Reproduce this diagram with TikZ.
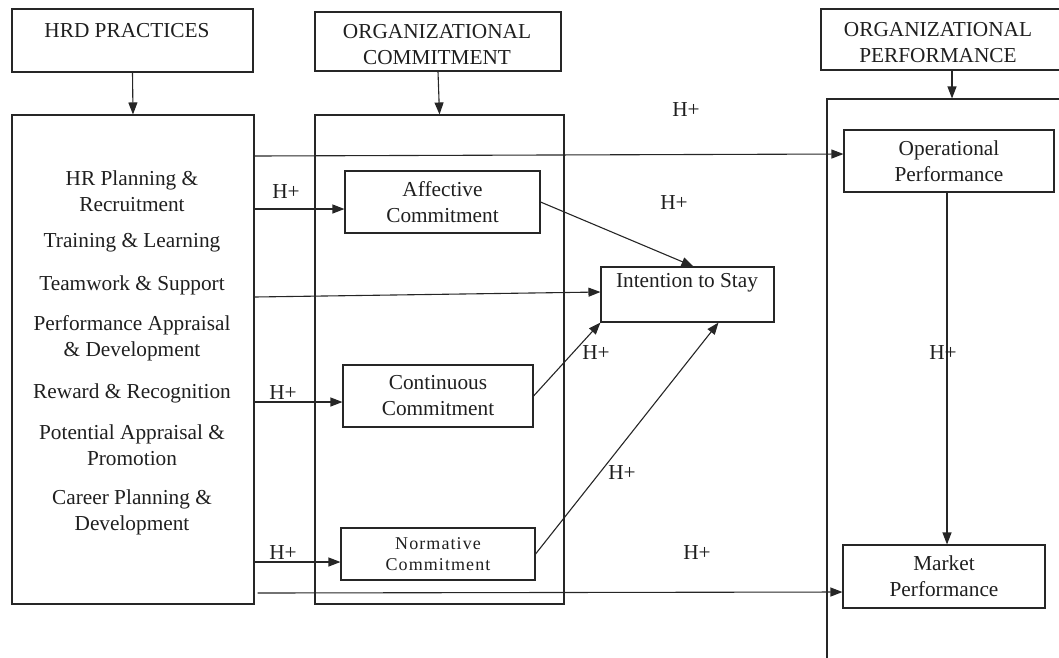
\documentclass[tikz,border=0pt]{standalone}
\usepackage{fontspec}
\setmainfont{Liberation Serif}
\usetikzlibrary{arrows.meta}
\begin{document}
\begin{tikzpicture}[x=1pt,y=-1pt,
  every node/.style={font=\fontsize{21.3}{26}\selectfont, text=black!88, inner sep=0pt},
  box/.style={draw=black!85, line width=1.1pt, rectangle},
  conn/.style={draw=black!85, line width=1.1pt},
  arr/.style={conn, -{Triangle[length=12pt,width=9pt]}},
  txt/.style={align=center},
  small/.style={font=\fontsize{18}{21}\selectfont\addfontfeatures{LetterSpace=6}}
]
\useasboundingbox (0,0) rectangle (1059,657);
\clip (0,0) rectangle (1059,657);

% header boxes
\node[box, minimum width=241pt, minimum height=63pt] (hrdH) at (132.5,40.5) {};
\node[txt] (hrdHt) at (127,31) {HRD PRACTICES};
\node[box, minimum width=246pt, minimum height=59pt] (orgC) at (438,41.5) {};
\node[txt] (orgCt) at (437,45) {ORGANIZATIONAL\\COMMITMENT};
\node[box, minimum width=249pt, minimum height=61pt] (orgP) at (945.5,39.5) {};
\node[txt] (orgPt) at (938,43) {ORGANIZATIONAL\\PERFORMANCE};

% big boxes
\node[box, minimum width=242pt, minimum height=489pt] (hrdB) at (133,359.5) {};
\node[box, minimum width=249pt, minimum height=489pt] (orgCB) at (439.5,359.5) {};
\node[box, minimum width=253pt, minimum height=601pt] (orgPB) at (953.5,399.5) {};

% HRD practices list
\node[txt] (hr) at (132,191) {HR Planning \&\\Recruitment};
\node[txt] (tl) at (132,243) {Training \& Learning};
\node[txt] (tw) at (132,285) {Teamwork \& Support};
\node[txt] (pa) at (132,338.5) {Performance Appraisal\\\& Development};
\node[txt] (rr) at (132,393) {Reward \& Recognition};
\node[txt] (pp) at (132,445) {Potential Appraisal \&\\Promotion};
\node[txt] (cp) at (132,512.5) {Career Planning \&\\Development};

% commitment boxes
\node[box, txt, minimum width=195pt, minimum height=62pt] (aff) at (442.5,202) {Affective\\Commitment};
\node[box, txt, minimum width=190pt, minimum height=62pt] (cont) at (438,396) {Continuous\\Commitment};
\node[box, txt, small, minimum width=194pt, minimum height=52pt] (norm) at (438,554) {Normative\\Commitment};

% intention
\node[box, minimum width=173pt, minimum height=55pt] (intent) at (687.5,294.5) {};
\node (intentt) at (687,283) {Intention to Stay};

% performance boxes
\node[box, txt, minimum width=210pt, minimum height=62pt] (op) at (949,161) {Operational\\Performance};
\node[box, txt, minimum width=202pt, minimum height=63pt] (mkt) at (944,576.5) {Market\\Performance};

% header arrows
\draw[arr] (hrdH.south) -- (hrdB.north);
\draw[arr] (orgC.south) -- (orgCB.north);
\coordinate (opx) at (952,0);
\draw[arr] (orgP.south -| opx) -- (orgPB.north -| opx);

% connectors
\draw[arr] (hrdB.east |- 0,156) -- (op.west |- 0,154);
\draw[arr] ([yshift=-7pt]aff.west -| hrdB.east) -- ([yshift=-7pt]aff.west);
\draw[arr] (hrdB.east |- 0,297) -- (intent.west |- 0,292);
\draw[arr] ([yshift=-6pt]cont.west -| hrdB.east) -- ([yshift=-6pt]cont.west);
\draw[arr] ([yshift=-8pt]norm.west -| hrdB.east) -- ([yshift=-8pt]norm.west);
\draw[arr] ([xshift=3pt]hrdB.east |- 0,593) -- (mkt.west |- 0,592);
\draw[arr] (aff.east) -- ([xshift=6pt]intent.north);
\draw[arr] (cont.east) -- (intent.south west);
\draw[arr] (norm.east) -- ([xshift=31pt]intent.south);
\draw[arr] ([xshift=-2pt]op.south) -- ([xshift=-2pt]op.south |- mkt.north);

% H+ labels
\node (h1) at (686,110) {H+};
\node (h2) at (286,192) {H+};
\node (h3) at (674,203) {H+};
\node (h4) at (283,393) {H+};
\node (h5) at (596,353) {H+};
\node (h6) at (283,553) {H+};
\node (h7) at (622,473) {H+};
\node (h8) at (697,553) {H+};
\node (h9) at (943,353) {H+};
\end{tikzpicture}
\end{document}
